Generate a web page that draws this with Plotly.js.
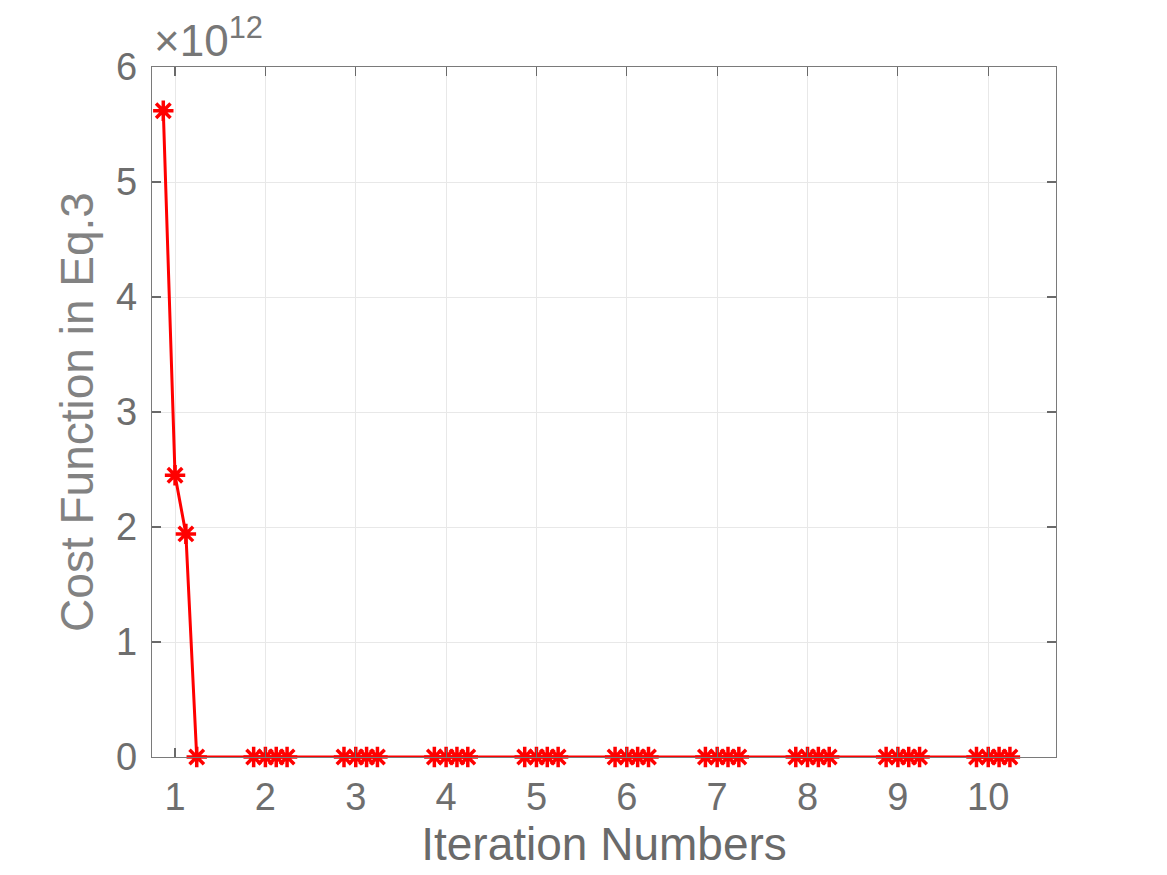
<!DOCTYPE html>
<html>
<head>
<meta charset="utf-8">
<script src="https://cdn.plot.ly/plotly-3.0.1.min.js"></script>
<style>html,body{margin:0;padding:0;background:#fff;}#chart{width:1167px;height:875px;}</style>
</head>
<body>
<div id="chart"></div>
<script>
// Iteration positions (4 sub-steps per iteration)
const iterX = [0.87, 1.0, 1.12, 1.24,
  1.87, 2.0, 2.12, 2.24,
  2.87, 3.0, 3.12, 3.24,
  3.87, 4.0, 4.12, 4.24,
  4.87, 5.0, 5.12, 5.24,
  5.87, 6.0, 6.12, 6.24,
  6.87, 7.0, 7.12, 7.24,
  7.87, 8.0, 8.12, 8.24,
  8.87, 9.0, 9.12, 9.24,
  9.87, 10.0, 10.12, 10.24];
// Cost function values in units of 1e12
const costValues = [5.62, 2.45, 1.94, 0,
  0, 0, 0, 0,
  0, 0, 0, 0,
  0, 0, 0, 0,
  0, 0, 0, 0,
  0, 0, 0, 0,
  0, 0, 0, 0,
  0, 0, 0, 0,
  0, 0, 0, 0,
  0, 0, 0, 0];
const xTicks = [1,2,3,4,5,6,7,8,9,10];
const yTicks = [0,1,2,3,4,5,6];
const xTitle = "Iteration Numbers";
const yTitle = "Cost Function in Eq.3";
const exponentLabel = "×10<sup>12</sup>";

const fontFam = "Liberation Sans, Arial, Helvetica, sans-serif";
const trace = {
  x: iterX, y: costValues, type: "scatter", mode: "lines+markers",
  line: {color: "#ff0000", width: 3},
  marker: {symbol: "asterisk-open", size: 17, color: "#ff0000", line: {color: "#ff0000", width: 3.5}},
  cliponaxis: false, showlegend: false
};
const axisCommon = {
  showline: true, linecolor: "#7a7a7a", linewidth: 1.2, mirror: "ticks",
  ticks: "inside", ticklen: 9, tickcolor: "#6a6a6a", tickwidth: 1.2,
  showgrid: true, gridcolor: "#e8e8e8", gridwidth: 1, zeroline: false,
  tickfont: {family: fontFam, size: 38, color: "#6e6e6e"}
};
const layout = {
  width: 1167, height: 875,
  margin: {l: 152, r: 111, t: 67, b: 118},
  paper_bgcolor: "#ffffff", plot_bgcolor: "#ffffff",
  xaxis: Object.assign({}, axisCommon, {
    range: [0.745, 10.75], tickvals: xTicks, ticktext: xTicks.map(String),
    ticklabelstandoff: 6,
    title: {text: xTitle, font: {family: fontFam, size: 46, color: "#6a6a6a"}, standoff: 4}
  }),
  yaxis: Object.assign({}, axisCommon, {
    range: [0, 6], tickvals: yTicks, ticktext: yTicks.map(String),
    ticklabelstandoff: 6,
    title: {text: yTitle, font: {family: fontFam, size: 46, color: "#828282"}, standoff: 8}
  }),
  annotations: [{
    xref: "paper", yref: "paper", x: 0, y: 1, xanchor: "left", yanchor: "bottom",
    xshift: 0, yshift: 0, showarrow: false, text: exponentLabel,
    font: {family: fontFam, size: 44, color: "#777777"}
  }]
};
Plotly.newPlot("chart", [trace], layout, {displayModeBar: false, staticPlot: true});
</script>
</body>
</html>
